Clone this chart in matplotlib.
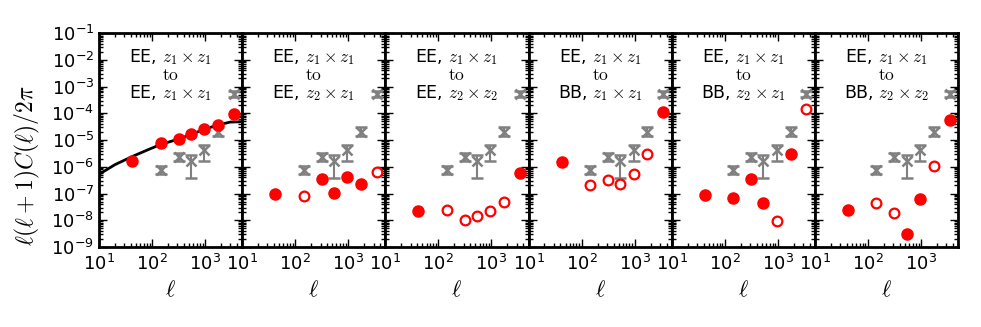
import matplotlib
matplotlib.use("Agg")
import matplotlib.pyplot as plt
from matplotlib.ticker import LogLocator, NullFormatter

plt.rcParams["mathtext.fontset"] = "cm"

# multipole bin centres
ell = [42, 145, 316, 537, 955, 1740, 3470]

# red points, one list per panel, with a filled (1) / open (0) flag
vals = [
    [1.6e-6, 7.6e-6, 1.1e-5, 1.65e-5, 2.6e-5, 3.6e-5, 9.8e-5],
    [9.3e-8, 8.0e-8, 3.4e-7, 1.07e-7, 4.3e-7, 2.2e-7, 6.3e-7],
    [2.2e-8, 2.5e-8, 1.05e-8, 1.5e-8, 2.2e-8, 5.0e-8, 6.0e-7],
    [1.55e-6, 2.05e-7, 3.2e-7, 2.2e-7, 5.2e-7, 2.9e-6, 1.15e-4],
    [9.1e-8, 6.9e-8, 3.4e-7, 4.3e-8, 9.8e-9, 2.9e-6, 1.4e-4],
    [2.5e-8, 4.3e-8, 1.8e-8, 3.1e-9, 6.5e-8, 1.07e-6, 5.5e-5],
]
filled = [
    [1, 1, 1, 1, 1, 1, 1],
    [1, 0, 1, 1, 1, 1, 0],
    [1, 0, 0, 0, 0, 0, 1],
    [1, 0, 0, 0, 0, 0, 1],
    [1, 1, 1, 1, 0, 1, 0],
    [1, 0, 0, 1, 1, 0, 1],
]

# grey error points (same in every panel)
grey_ell = [145, 316, 537, 955, 1740, 3470]
grey_val = [7.6e-7, 2.3e-6, 1.6e-6, 4.3e-6, 2.0e-5, 5.2e-4]
grey_lo = [5.2e-7, 1.7e-6, 3.9e-7, 1.6e-6, 1.4e-5, 3.9e-4]
grey_hi = [1.1e-6, 3.4e-6, 2.75e-6, 6.3e-6, 3.1e-5, 6.9e-4]

# theory curve in first panel
curve_ell = [10, 20, 44, 90, 148, 325, 540, 955, 1700, 3000, 4650]
curve_val = [5.2e-7, 1.2e-6, 2.5e-6, 4.6e-6, 6.9e-6, 1.1e-5, 1.6e-5, 2.5e-5, 3.6e-5, 4.7e-5, 4.8e-5]

labels = [
    ("EE", "z_1\\times z_1"),
    ("EE", "z_2\\times z_1"),
    ("EE", "z_2\\times z_2"),
    ("BB", "z_1\\times z_1"),
    ("BB", "z_2\\times z_1"),
    ("BB", "z_2\\times z_2"),
]

fig = plt.figure(figsize=(9.81, 3.27), dpi=100)
left, right, bottom, top = 0.1009, 0.9766, 0.2446, 0.899
w = (right - left) / 6

axes = []
for i in range(6):
    ax = fig.add_axes([left + i * w, bottom, w, top - bottom])
    axes.append(ax)

    lo = [v - l for v, l in zip(grey_val, grey_lo)]
    hi = [h - v for v, h in zip(grey_val, grey_hi)]
    ax.errorbar(grey_ell, grey_val, yerr=[lo, hi], fmt="x", color="0.5",
                ms=7, mew=1.8, elinewidth=1.5, capsize=4, capthick=1.8,
                zorder=2)

    if i == 0:
        ax.plot(curve_ell, curve_val, "k-", lw=2, zorder=3)

    for x, v, f in zip(ell, vals[i], filled[i]):
        if f:
            ax.plot(x, v, "o", color="red", mec="red", ms=8, zorder=4)
        else:
            ax.plot(x, v, "o", color="white", mec="red", mew=1.6, ms=7,
                    zorder=4)

    ax.set_xscale("log")
    ax.set_yscale("log")
    ax.set_xlim(10, 5000)
    ax.set_ylim(1e-9, 1e-1)
    ax.yaxis.set_major_locator(LogLocator(base=10, numticks=20))
    ax.yaxis.set_minor_locator(LogLocator(base=10, subs=range(2, 10), numticks=20))
    ax.yaxis.set_minor_formatter(NullFormatter())
    ax.xaxis.set_minor_formatter(NullFormatter())
    ax.tick_params(which="both", direction="in", top=True, right=True,
                   labelsize=13, width=1)
    ax.tick_params(axis="x", pad=5)
    ax.tick_params(which="major", length=6)
    ax.tick_params(which="minor", length=3)
    for s in ax.spines.values():
        s.set_linewidth(2)
    if i > 0:
        ax.tick_params(labelleft=False)
    ax.set_xlabel(r"$\ell$", fontsize=16, labelpad=4)

    a, b = labels[i]
    ax.text(0.5, 0.935, "EE, $z_1\\times z_1$\n$\\mathrm{to}$\n" + a + ", $" + b + "$",
            transform=ax.transAxes, ha="center", va="top", fontsize=12.5,
            linespacing=0.95)

axes[0].set_ylabel(r"$\ell(\ell+1)C(\ell)/2\pi$", fontsize=17)
axes[0].yaxis.set_label_coords(-0.40, 0.38)

fig.savefig("out.png", dpi=100)
